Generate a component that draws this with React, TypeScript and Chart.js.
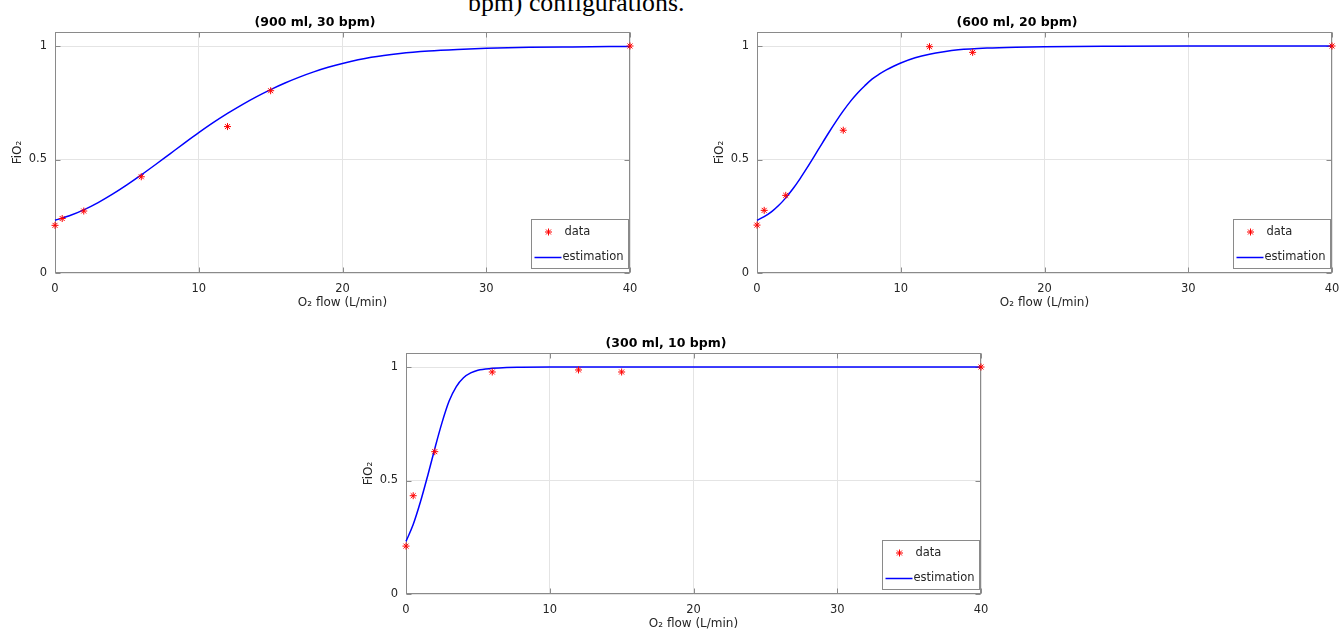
import React, { useEffect, useRef } from "react";
import { Chart, registerables } from "chart.js";

Chart.register(...registerables);

// ---------- data ----------
const xTicks = [0, 10, 20, 30, 40];
const yTicks = [0, 0.5, 1];
const X_MIN = 0;
const X_MAX = 40;
const Y_MIN = 0;
const Y_MAX = 1.0617;

const subplotTitles = ["(900 ml, 30 bpm)", "(600 ml, 20 bpm)", "(300 ml, 10 bpm)"];
const xAxisTitle = "O\u2082 flow (L/min)";
const yAxisTitle = "FiO\u2082";
const legendLabels = ["data", "estimation"];
const captionText = "bpm) configurations.";

// measured O2 flow (L/min)
const dataFlow = [0, 0.5, 2, 6, 12, 15, 40];
// measured FiO2
const fio2_900 = [0.21, 0.24, 0.273, 0.424, 0.645, 0.803, 1.0];
const fio2_600 = [0.211, 0.276, 0.342, 0.629, 0.997, 0.972, 1.0];
const fio2_300 = [0.211, 0.433, 0.627, 0.978, 0.987, 0.978, 1.0];

// estimation curves
const estFlow_900 = [0, 1, 2, 3, 4, 5, 6, 7, 8, 9, 10, 11, 12, 13, 14, 15, 16, 17, 18, 19, 20, 22, 24, 26, 28, 30, 33, 36, 40];
const est_900 = [0.232, 0.252, 0.278, 0.31, 0.347, 0.388, 0.432, 0.478, 0.525, 0.572, 0.618, 0.662, 0.703, 0.741, 0.776, 0.808, 0.837, 0.863, 0.886, 0.906, 0.923, 0.95, 0.967, 0.978, 0.985, 0.99, 0.994, 0.996, 0.998];

const estFlow_600 = [0, 0.5, 1, 1.5, 2, 2.5, 3, 3.5, 4, 4.5, 5, 5.5, 6, 6.5, 7, 7.5, 8, 8.5, 9, 9.5, 10, 11, 12, 13, 14, 16, 18, 20, 25, 30, 40];
const est_600 = [0.232, 0.248, 0.269, 0.297, 0.331, 0.371, 0.416, 0.465, 0.516, 0.568, 0.619, 0.668, 0.714, 0.756, 0.793, 0.825, 0.854, 0.876, 0.895, 0.911, 0.925, 0.948, 0.964, 0.975, 0.983, 0.991, 0.995, 0.997, 0.999, 1.0, 1.0];

const estFlow_300 = [0, 0.5, 1, 1.5, 2, 2.5, 3, 3.5, 4, 4.5, 5, 6, 7, 8, 10, 20, 30, 40];
const est_300 = [0.232, 0.306, 0.405, 0.519, 0.64, 0.754, 0.85, 0.914, 0.953, 0.974, 0.986, 0.994, 0.998, 0.999, 1.0, 1.0, 1.0, 1.0];

// ---------- styling ----------
const FONT = "'DejaVu Sans', 'Liberation Sans', sans-serif";
const TEXT_COLOR = "#262626";
const AXIS_COLOR = "#8a8a8a";
const GRID_COLOR = "#e4e4e4";
const DATA_COLOR = "#ff0000";
const LINE_COLOR = "#0000ff";

function drawStar(ctx: CanvasRenderingContext2D, x: number, y: number, r: number) {
  ctx.beginPath();
  for (let k = 0; k < 4; k++) {
    const a = (k * Math.PI) / 4;
    ctx.moveTo(x - Math.cos(a) * r, y - Math.sin(a) * r);
    ctx.lineTo(x + Math.cos(a) * r, y + Math.sin(a) * r);
  }
  ctx.stroke();
}

const framePlugin = {
  id: "matlabFrame",
  beforeDatasetsDraw(chart: any) {
    const { ctx, chartArea: a, scales } = chart;
    ctx.save();
    ctx.strokeStyle = AXIS_COLOR;
    ctx.lineWidth = 1;
    const L = Math.round(a.left) + 0.5;
    const T = Math.round(a.top) + 0.5;
    const R = Math.round(a.right) - 0.5;
    const B = Math.round(a.bottom) - 0.5;
    ctx.strokeRect(L, T, R - L, B - T);
    ctx.beginPath();
    for (const v of xTicks) {
      const px = Math.round(scales.x.getPixelForValue(v)) + 0.5;
      ctx.moveTo(px, B);
      ctx.lineTo(px, B - 5);
      ctx.moveTo(px, T);
      ctx.lineTo(px, T + 5);
    }
    for (const v of yTicks) {
      const py = Math.round(scales.y.getPixelForValue(v)) + 0.5;
      ctx.moveTo(L, py);
      ctx.lineTo(L + 5, py);
      ctx.moveTo(R, py);
      ctx.lineTo(R - 5, py);
    }
    ctx.stroke();
    ctx.restore();
  },
  afterDatasetsDraw(chart: any) {
    const { ctx, chartArea: a } = chart;
    const w = 97;
    const h = 49;
    const right = Math.round(a.right) - 1.5;
    const bottom = Math.round(a.bottom) - 4.5;
    const left = right - w;
    const top = bottom - h;
    ctx.save();
    ctx.fillStyle = "#ffffff";
    ctx.fillRect(left, top, w, h);
    ctx.strokeStyle = AXIS_COLOR;
    ctx.lineWidth = 1;
    ctx.strokeRect(left, top, w, h);
    // data entry
    ctx.strokeStyle = DATA_COLOR;
    ctx.lineWidth = 1;
    drawStar(ctx, left + 17, top + 12.5, 3.5);
    ctx.fillStyle = TEXT_COLOR;
    ctx.font = `11.5px ${FONT}`;
    ctx.textBaseline = "middle";
    ctx.textAlign = "left";
    ctx.fillText(legendLabels[0], left + 33, top + 13);
    // estimation entry
    ctx.strokeStyle = LINE_COLOR;
    ctx.lineWidth = 1.5;
    ctx.beginPath();
    ctx.moveTo(left + 3, top + 38);
    ctx.lineTo(left + 30, top + 38);
    ctx.stroke();
    ctx.fillText(legendLabels[1], left + 31, top + 38);
    ctx.restore();
  },
};

type SubplotProps = {
  title: string;
  fio2: number[];
  estFlow: number[];
  est: number[];
  left: number;
  top: number;
};

const CANVAS_W = 650; // 55 (y axis) + 575 (plot) + 20 (right padding)
const CANVAS_H = 309;

function Subplot({ title, fio2, estFlow, est, left, top }: SubplotProps) {
  const ref = useRef<HTMLCanvasElement | null>(null);
  useEffect(() => {
    if (!ref.current) return;
    const tickFont = { family: FONT, size: 11.5 };
    const chart = new Chart(ref.current, {
      type: "scatter",
      data: {
        datasets: [
          {
            type: "scatter",
            label: legendLabels[0],
            data: dataFlow.map((x, i) => ({ x, y: fio2[i] })),
            pointStyle: "star",
            pointRadius: 3.5,
            pointBorderWidth: 1,
            borderColor: DATA_COLOR,
            backgroundColor: DATA_COLOR,
            clip: false,
          } as any,
          {
            type: "line",
            label: legendLabels[1],
            data: estFlow.map((x, i) => ({ x, y: est[i] })),
            borderColor: LINE_COLOR,
            borderWidth: 1.5,
            pointRadius: 0,
            fill: false,
            cubicInterpolationMode: "monotone",
            clip: false,
          } as any,
        ],
      },
      options: {
        animation: false,
        responsive: false,
        maintainAspectRatio: false,
        devicePixelRatio: 1,
        layout: { padding: { top: 15, left: 0, right: 20, bottom: 0 } },
        plugins: {
          legend: { display: false },
          tooltip: { enabled: false },
          title: {
            display: true,
            text: title,
            color: "#000000",
            font: { family: FONT, size: 12.5, weight: "bold", lineHeight: 1.2 },
            padding: { top: 0, bottom: 2 },
          },
        },
        scales: {
          x: {
            type: "linear",
            min: X_MIN,
            max: X_MAX,
            afterBuildTicks: (s: any) => {
              s.ticks = xTicks.map((v) => ({ value: v }));
            },
            afterFit: (s: any) => {
              s.height = 36;
            },
            grid: { color: GRID_COLOR, drawTicks: false, lineWidth: 1 },
            border: { display: false },
            ticks: {
              padding: 9,
              color: TEXT_COLOR,
              font: tickFont,
              maxRotation: 0,
              callback: (v: any) => String(v),
            },
            title: {
              display: true,
              text: xAxisTitle,
              color: TEXT_COLOR,
              font: { family: FONT, size: 12, lineHeight: 1 },
              padding: { top: 0, bottom: 0 },
            },
          },
          y: {
            type: "linear",
            min: Y_MIN,
            max: Y_MAX,
            afterBuildTicks: (s: any) => {
              s.ticks = yTicks.map((v) => ({ value: v }));
            },
            afterFit: (s: any) => {
              s.width = 55;
            },
            grid: { color: GRID_COLOR, drawTicks: false, lineWidth: 1 },
            border: { display: false },
            ticks: {
              padding: 8,
              color: TEXT_COLOR,
              font: tickFont,
              callback: (v: any) => String(v),
            },
            title: {
              display: true,
              text: yAxisTitle,
              color: TEXT_COLOR,
              font: { family: FONT, size: 12, lineHeight: 1 },
              padding: { top: 12, bottom: 0 },
            },
          },
        },
      } as any,
      plugins: [framePlugin],
    });
    return () => chart.destroy();
  }, [title, fio2, estFlow, est]);

  return (
    <canvas
      ref={ref}
      width={CANVAS_W}
      height={CANVAS_H}
      style={{ position: "absolute", left, top, width: CANVAS_W, height: CANVAS_H, display: "block" }}
    />
  );
}

export default function App() {
  return (
    <div
      style={{
        position: "absolute",
        left: 0,
        top: 0,
        width: 1343,
        height: 632,
        overflow: "hidden",
        background: "#ffffff",
      }}
    >
      <div
        style={{
          position: "absolute",
          left: 468,
          top: -10.5,
          fontFamily: "'Liberation Serif', 'Times New Roman', serif",
          fontSize: 25.8,
          lineHeight: "26px",
          whiteSpace: "nowrap",
          color: "#000000",
        }}
      >
        {captionText}
      </div>
      <Subplot title={subplotTitles[0]} fio2={fio2_900} estFlow={estFlow_900} est={est_900} left={0} top={0} />
      <Subplot title={subplotTitles[1]} fio2={fio2_600} estFlow={estFlow_600} est={est_600} left={702} top={0} />
      <Subplot title={subplotTitles[2]} fio2={fio2_300} estFlow={estFlow_300} est={est_300} left={351} top={321} />
    </div>
  );
}
